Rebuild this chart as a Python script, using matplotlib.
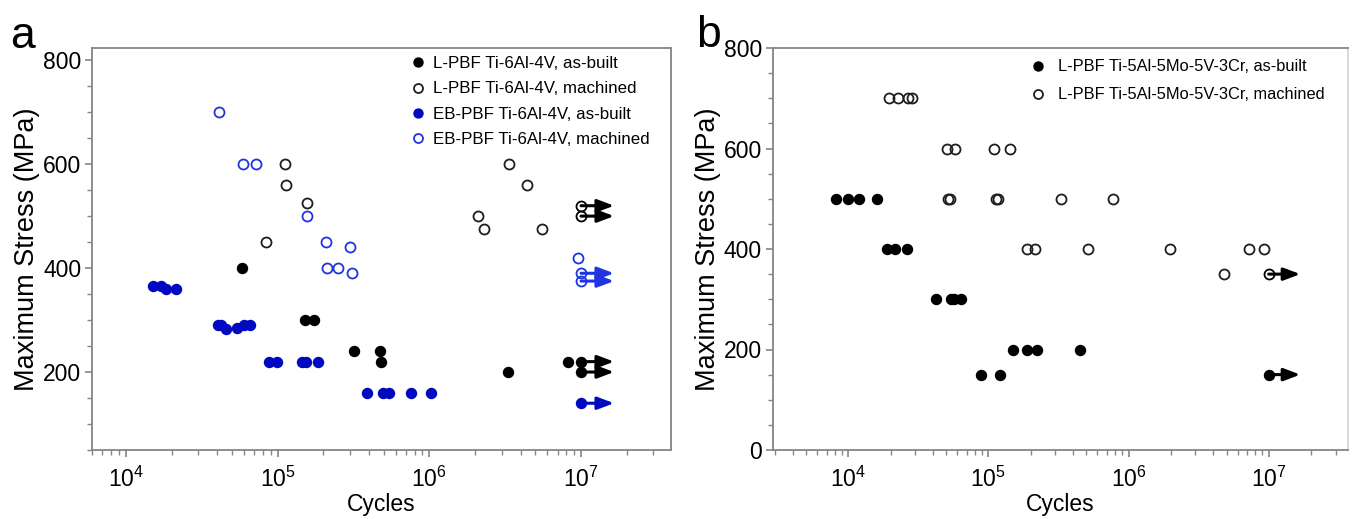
import matplotlib
matplotlib.use('Agg')
import matplotlib.pyplot as plt
from matplotlib.ticker import LogLocator, MultipleLocator, NullFormatter, FixedLocator
from matplotlib.patches import ArrowStyle

plt.rcParams['font.family'] = ['Liberation Sans', 'DejaVu Sans']
plt.rcParams['mathtext.default'] = 'regular'

# ---------------- Panel a data ----------------
lpbf64_ab_cycles = [5.8e4, 1.51e5, 1.73e5, 3.21e5, 4.73e5, 4.82e5, 3.32e6, 8.2e6]
lpbf64_ab_stress = [400, 300, 300, 240, 240, 220, 200, 220]
lpbf64_ab_runout_cycles = [1e7, 1e7]
lpbf64_ab_runout_stress = [220, 200]

lpbf64_m_cycles = [8.43e4, 1.12e5, 1.13e5, 1.55e5, 2.1e6, 2.3e6, 3.37e6, 4.43e6, 5.57e6]
lpbf64_m_stress = [450, 600, 560, 525, 500, 475, 600, 560, 475]
lpbf64_m_runout_cycles = [1e7, 1e7]
lpbf64_m_runout_stress = [520, 500]

eb64_ab_cycles = [1.5e4, 1.7e4, 1.84e4, 2.13e4,
                  4.03e4, 4.24e4, 4.57e4, 5.41e4, 6.0e4, 6.58e4,
                  8.79e4, 9.83e4, 1.45e5, 1.54e5, 1.84e5,
                  3.9e5, 4.95e5, 5.44e5, 7.57e5, 1.02e6]
eb64_ab_stress = [365, 365, 360, 360,
                  290, 290, 283, 285, 290, 290,
                  220, 220, 220, 220, 220,
                  160, 160, 160, 160, 160]
eb64_ab_runout_cycles = [1e7]
eb64_ab_runout_stress = [140]

eb64_m_cycles = [4.1e4, 5.9e4, 7.18e4, 1.57e5, 2.09e5, 2.98e5, 2.13e5, 2.51e5, 3.07e5, 9.5e6]
eb64_m_stress = [700, 600, 600, 500, 450, 440, 400, 400, 390, 420]
eb64_m_runout_cycles = [1e7, 1e7]
eb64_m_runout_stress = [390, 375]

# ---------------- Panel b data ----------------
lpbf553_ab_cycles = [8.2e3, 1.0e4, 1.19e4, 1.6e4,
                     1.88e4, 2.17e4, 2.64e4,
                     4.23e4, 5.42e4, 5.72e4, 6.38e4,
                     1.49e5, 1.89e5, 2.23e5, 4.47e5,
                     8.9e4, 1.21e5]
lpbf553_ab_stress = [500, 500, 500, 500,
                     400, 400, 400,
                     300, 300, 300, 300,
                     200, 200, 200, 200,
                     150, 150]
lpbf553_ab_runout_cycles = [1e7]
lpbf553_ab_runout_stress = [150]

lpbf553_m_cycles = [1.96e4, 2.28e4, 2.65e4, 2.87e4,
                    5.05e4, 5.78e4, 1.09e5, 1.43e5,
                    5.18e4, 5.33e4, 1.14e5, 1.17e5, 3.3e5, 7.8e5,
                    1.88e5, 2.16e5, 5.13e5, 1.99e6, 7.2e6, 9.2e6,
                    4.8e6]
lpbf553_m_stress = [700, 700, 700, 700,
                    600, 600, 600, 600,
                    500, 500, 500, 500, 500, 500,
                    400, 400, 400, 400, 400, 400,
                    350]
lpbf553_m_runout_cycles = [1e7]
lpbf553_m_runout_stress = [350]

legend_a = ['L-PBF Ti-6Al-4V, as-built', 'L-PBF Ti-6Al-4V, machined',
            'EB-PBF Ti-6Al-4V, as-built', 'EB-PBF Ti-6Al-4V, machined']
legend_b = ['L-PBF Ti-5Al-5Mo-5V-3Cr, as-built', 'L-PBF Ti-5Al-5Mo-5V-3Cr, machined']

BLACK = '#000000'
OPEN_BLACK = '#1e1e1e'
BLUE = '#0008c0'
OPEN_BLUE = '#2035e0'
SPINE = '#858585'
MS = 7.2
TICK_FS = 16.5
YLABEL_FS = 19.5
LEG_FS_A = 12.2
LEG_FS_B = 11.8

fig = plt.figure(figsize=(13.64, 5.19), dpi=100)
W, H = 1364, 519
axa = fig.add_axes([92.3 / W, 1 - 450 / H, (670.7 - 92.3) / W, (450 - 47.7) / H])
axb = fig.add_axes([773 / W, 1 - 450 / H, (1348.3 - 773) / W, (450 - 48) / H])


def style(ax, right_color):
    ax.set_xscale('log')
    for s in ['left', 'bottom', 'top']:
        ax.spines[s].set_color(SPINE)
        ax.spines[s].set_linewidth(1.3)
    ax.spines['right'].set_color(right_color)
    ax.spines['right'].set_linewidth(1.3)
    ax.xaxis.set_major_locator(FixedLocator([1e4, 1e5, 1e6, 1e7]))
    ax.xaxis.set_minor_locator(LogLocator(base=10, subs=range(2, 10), numticks=20))
    ax.xaxis.set_minor_formatter(NullFormatter())
    ax.set_xticklabels(['$10^{4}$', '$10^{5}$', '$10^{6}$', '$10^{7}$'])
    ax.yaxis.set_major_locator(MultipleLocator(200))
    ax.yaxis.set_minor_locator(MultipleLocator(50))
    ax.tick_params(which='both', direction='out', color=SPINE, labelsize=TICK_FS,
                   labelcolor='black', top=False, right=False)
    ax.tick_params(which='major', length=5, width=1.2)
    ax.tick_params(axis='x', which='major', pad=7)
    ax.tick_params(axis='y', which='major', pad=3)
    ax.tick_params(which='minor', length=3.5, width=1.0)
    ax.set_xlabel('Cycles', fontsize=TICK_FS, labelpad=1)
    ax.set_ylabel('Maximum Stress (MPa)', fontsize=YLABEL_FS, labelpad=2)


def series(ax, x, y, color, filled, label=None):
    if filled:
        return ax.plot(x, y, 'o', ms=MS, mfc=color, mec=color, mew=1.0,
                       ls='none', label=label, zorder=3)[0]
    return ax.plot(x, y, 'o', ms=MS, mfc='none', mec=color, mew=1.3,
                   ls='none', label=label, zorder=3)[0]


def runouts(ax, x, y, color, filled, factor):
    series(ax, x, y, color, filled)
    for cx, cy in zip(x, y):
        ax.annotate('', xy=(cx * factor, cy), xytext=(cx, cy),
                    arrowprops=dict(arrowstyle=ArrowStyle('-|>', head_length=0.45, head_width=0.17),
                                    mutation_scale=22, color=color, lw=2.2,
                                    shrinkA=0, shrinkB=0), zorder=2)


# ---- Panel a ----
style(axa, SPINE)
h1 = series(axa, lpbf64_ab_cycles, lpbf64_ab_stress, BLACK, True, legend_a[0])
h2 = series(axa, lpbf64_m_cycles, lpbf64_m_stress, OPEN_BLACK, False, legend_a[1])
h3 = series(axa, eb64_ab_cycles, eb64_ab_stress, BLUE, True, legend_a[2])
h4 = series(axa, eb64_m_cycles, eb64_m_stress, OPEN_BLUE, False, legend_a[3])
runouts(axa, lpbf64_ab_runout_cycles, lpbf64_ab_runout_stress, BLACK, True, 1.65)
runouts(axa, lpbf64_m_runout_cycles, lpbf64_m_runout_stress, BLACK, False, 1.65)
runouts(axa, eb64_ab_runout_cycles, eb64_ab_runout_stress, BLUE, True, 1.65)
runouts(axa, eb64_m_runout_cycles, eb64_m_runout_stress, OPEN_BLUE, False, 1.65)
axa.set_xlim(6.0e3, 3.9e7)
axa.set_ylim(50, 824)
axa.set_yticks([200, 400, 600, 800])
axa.legend(handles=[h1, h2, h3, h4], loc='upper left', bbox_to_anchor=(0.5484, 0.979),
           frameon=False, fontsize=LEG_FS_A, handlelength=1.0, handletextpad=0.37,
           labelspacing=0.61, borderpad=0, borderaxespad=0, markerscale=0.9)

# ---- Panel b ----
style(axb, '#d8d8d8')
g1 = series(axb, lpbf553_ab_cycles, lpbf553_ab_stress, BLACK, True, legend_b[0])
g2 = series(axb, lpbf553_m_cycles, lpbf553_m_stress, OPEN_BLACK, False, legend_b[1])
runouts(axb, lpbf553_ab_runout_cycles, lpbf553_ab_runout_stress, BLACK, True, 1.68)
runouts(axb, lpbf553_m_runout_cycles, lpbf553_m_runout_stress, BLACK, False, 1.68)
axb.set_xlim(2.9e3, 3.7e7)
axb.set_ylim(0, 800)
axb.legend(handles=[g1, g2], loc='upper left', bbox_to_anchor=(0.4459, 0.972),
           frameon=False, fontsize=LEG_FS_B, handlelength=1.0, handletextpad=0.72,
           labelspacing=0.8, borderpad=0, borderaxespad=0, markerscale=0.9)

fig.text(10 / W, 1 - 48 / H, 'a', fontsize=32, ha='left', va='baseline')
fig.text(696 / W, 1 - 47 / H, 'b', fontsize=32, ha='left', va='baseline')

fig.savefig('out.png', dpi=100)
